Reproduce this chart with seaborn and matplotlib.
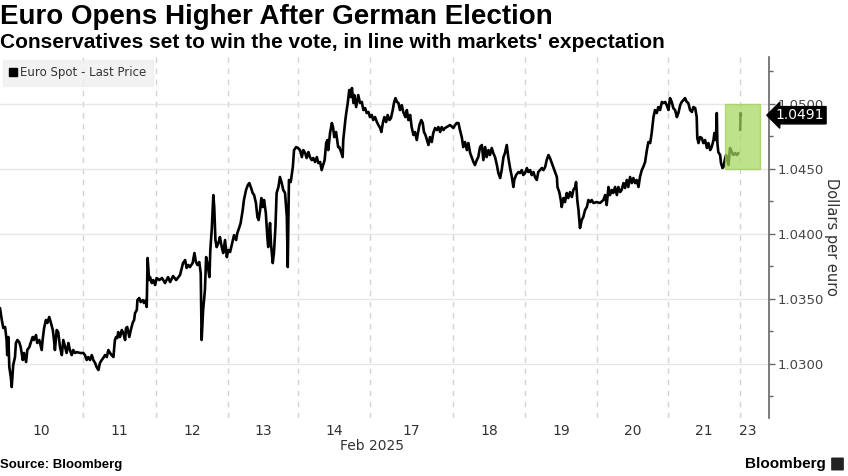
import matplotlib
matplotlib.use("Agg")
import numpy as np
import pandas as pd
import matplotlib.pyplot as plt
import seaborn as sns
from matplotlib.lines import Line2D
from matplotlib.patches import Rectangle, FancyBboxPatch
import matplotlib.ticker as mticker

# ---------------- data ----------------
day_labels = ["10", "11", "12", "13", "14", "17", "18", "19", "20", "21", "23"]
day_start_hours = [0, 27.7, 52, 76, 99.3, 123.3, 151, 175, 199, 222.7, 246.7]
axis_end_hour = 256.3

feb10_h = [0.0, 0.6, 1.1, 1.7, 2.2, 2.4, 2.8, 3.1, 3.6, 3.9, 4.4, 5.0, 5.3, 5.8, 6.4, 6.9, 7.6, 8.0, 8.7, 9.1,
           9.8, 10.2, 10.9, 11.3, 12.0, 12.4, 13.1, 13.9, 14.2, 14.7, 15.3, 15.8, 16.4, 16.9, 17.6, 18.0, 18.3,
           18.9, 19.4, 20.0, 20.6, 21.1, 21.7, 22.2, 22.8, 23.3, 23.9, 24.4, 25.0, 25.6, 26.7, 27.8]
feb10_p = [1.03427, 1.03335, 1.03273, 1.03281, 1.03181, 1.03065, 1.03204, 1.02973, 1.02896, 1.02819, 1.02988,
           1.03050, 1.03158, 1.03181, 1.03165, 1.03127, 1.03027, 1.03081, 1.03012, 1.03104, 1.03127, 1.03158,
           1.03204, 1.03181, 1.03219, 1.03158, 1.03181, 1.03104, 1.03181, 1.03273, 1.03335, 1.03312, 1.03358,
           1.03319, 1.03258, 1.03181, 1.03104, 1.03258, 1.03242, 1.03127, 1.03065, 1.03181, 1.03127, 1.03081,
           1.03158, 1.03104, 1.03065, 1.03104, 1.03081, 1.03088, 1.03081, 1.03081]

feb11_h = [28.3, 28.9, 29.4, 30.0, 30.6, 31.1, 31.7, 32.2, 32.8, 33.3, 33.9, 34.4, 35.0, 35.6, 36.1, 36.7, 37.2,
           37.8, 38.3, 38.7, 39.1, 39.4, 40.0, 40.6, 41.1, 41.7, 42.0, 42.4, 43.1, 43.6, 44.2, 44.7, 45.0, 45.6,
           45.8, 46.4, 46.9, 47.6, 48.0, 48.6, 48.9, 49.2, 49.7, 50.0, 50.6, 51.1, 51.7, 52.2]
feb11_p = [1.03065, 1.03027, 1.03050, 1.03027, 1.03065, 1.03027, 1.03004, 1.02973, 1.02950, 1.03004, 1.03027,
           1.03042, 1.03065, 1.03050, 1.03104, 1.03081, 1.03065, 1.03050, 1.03181, 1.03204, 1.03196, 1.03242,
           1.03204, 1.03258, 1.03235, 1.03181, 1.03273, 1.03281, 1.03204, 1.03258, 1.03312, 1.03335, 1.03388,
           1.03412, 1.03488, 1.03504, 1.03473, 1.03488, 1.03465, 1.03488, 1.03435, 1.03812, 1.03642, 1.03665,
           1.03619, 1.03642, 1.03604, 1.03658]

feb12_h = [53.1, 54.0, 55.0, 56.0, 56.7, 57.7, 58.7, 60.0, 61.0, 61.7, 62.2, 62.8, 63.3, 64.2, 64.8, 65.3, 65.8,
           66.4, 66.9, 67.2, 67.7, 68.3, 68.7, 69.1, 69.8, 70.1, 70.6, 71.1, 71.4, 71.8, 72.2, 72.8, 73.3, 73.9,
           74.4, 75.0, 75.6, 76.1]
feb12_p = [1.03642, 1.03658, 1.03619, 1.03665, 1.03627, 1.03673, 1.03642, 1.03681, 1.03773, 1.03796, 1.03735,
           1.03758, 1.03742, 1.03773, 1.03850, 1.03781, 1.03758, 1.03781, 1.03696, 1.03181, 1.03412, 1.03565,
           1.03819, 1.03773, 1.03665, 1.03873, 1.04042, 1.04296, 1.04204, 1.03950, 1.03896, 1.03927, 1.03973,
           1.03896, 1.03850, 1.03950, 1.03819, 1.03873]

feb13_h = [76.7, 77.6, 78.0, 78.7, 79.1, 79.8, 80.2, 80.9, 81.3, 82.0, 82.6, 83.1, 83.7, 84.2, 84.7, 85.3, 85.8,
           86.2, 86.7, 87.1, 87.6, 88.0, 88.6, 89.1, 89.4, 90.0, 90.3, 90.9, 91.3, 91.8, 92.2, 92.8, 93.3, 93.9,
           94.4, 95.0, 95.6, 95.9, 96.3, 96.9, 97.6, 98.0, 98.7, 99.3]
feb13_p = [1.03858, 1.03950, 1.03988, 1.03950, 1.04004, 1.04050, 1.04081, 1.04181, 1.04258, 1.04335, 1.04373,
           1.04388, 1.04350, 1.04312, 1.04296, 1.04235, 1.04127, 1.04104, 1.04181, 1.04273, 1.04204, 1.04258,
           1.04158, 1.03973, 1.03896, 1.04081, 1.03927, 1.03773, 1.03850, 1.04050, 1.04312, 1.04358, 1.04435,
           1.04388, 1.04335, 1.04312, 1.04127, 1.03742, 1.04412, 1.04396, 1.04512, 1.04642, 1.04665, 1.04658]

feb14_h = [100.0, 100.6, 101.1, 101.7, 102.2, 102.8, 103.3, 103.9, 104.4, 105.0, 105.6, 106.1, 106.7, 107.2,
           107.7, 108.2, 108.7, 109.1, 109.4, 110.0, 110.6, 111.0, 111.4, 112.0, 112.7, 113.1, 113.8, 114.2,
           114.4, 115.1, 115.4, 115.9, 116.4, 116.9, 117.3, 117.8, 118.1, 118.7, 119.1, 119.4, 120.0, 120.6,
           121.1, 121.7, 122.2, 122.8, 123.3]
feb14_p = [1.04642, 1.04588, 1.04642, 1.04619, 1.04581, 1.04627, 1.04588, 1.04565, 1.04581, 1.04550, 1.04588,
           1.04542, 1.04550, 1.04488, 1.04527, 1.04565, 1.04696, 1.04719, 1.04642, 1.04773, 1.04850, 1.04819,
           1.04742, 1.04781, 1.04665, 1.04665, 1.04619, 1.04588, 1.04719, 1.04873, 1.04927, 1.05004, 1.05104,
           1.05050, 1.05119, 1.05004, 1.05065, 1.04973, 1.05027, 1.05065, 1.05004, 1.05012, 1.04950, 1.04965,
           1.04927, 1.04935, 1.04896]

feb17_h = [123.9, 124.4, 125.0, 125.6, 126.1, 126.7, 127.1, 127.6, 128.1, 128.7, 129.2, 129.8, 130.3, 130.9,
           131.3, 131.8, 132.3, 132.8, 133.3, 133.9, 134.4, 135.1, 135.6, 136.1, 136.7, 137.2, 137.8, 138.3,
           138.9, 139.3, 139.8, 140.4, 140.9, 141.3, 141.8, 142.3, 142.8, 143.3, 143.9, 144.4, 145.0, 145.6,
           146.1, 146.7, 147.2, 147.8, 148.3, 148.9, 150.0, 151.1]
feb17_p = [1.04912, 1.04873, 1.04896, 1.04858, 1.04835, 1.04812, 1.04781, 1.04850, 1.04896, 1.04858, 1.04912,
           1.04873, 1.04888, 1.04950, 1.05004, 1.05042, 1.05012, 1.05004, 1.04950, 1.04988, 1.04935, 1.04896,
           1.04950, 1.04873, 1.04912, 1.04819, 1.04758, 1.04781, 1.04719, 1.04773, 1.04835, 1.04873, 1.04850,
           1.04781, 1.04758, 1.04719, 1.04681, 1.04742, 1.04704, 1.04773, 1.04812, 1.04796, 1.04819, 1.04781,
           1.04819, 1.04796, 1.04812, 1.04819, 1.04835, 1.04812]

feb18_h = [151.7, 152.2, 152.8, 153.3, 153.9, 154.4, 155.0, 155.6, 156.1, 156.7, 157.2, 157.8, 158.3, 158.9,
           159.4, 160.0, 160.6, 161.1, 161.7, 162.2, 162.8, 163.3, 163.9, 164.4, 165.0, 165.6, 166.1, 166.7,
           167.2, 167.8, 168.3, 168.9, 169.4, 170.0, 170.6, 171.1, 171.4, 172.0, 172.8, 173.3, 173.9, 174.4,
           175.0]
feb18_p = [1.04835, 1.04850, 1.04850, 1.04796, 1.04742, 1.04665, 1.04704, 1.04642, 1.04696, 1.04619, 1.04588,
           1.04550, 1.04527, 1.04565, 1.04588, 1.04665, 1.04681, 1.04565, 1.04665, 1.04588, 1.04642, 1.04604,
           1.04658, 1.04619, 1.04588, 1.04527, 1.04465, 1.04427, 1.04488, 1.04588, 1.04619, 1.04681, 1.04588,
           1.04504, 1.04435, 1.04358, 1.04412, 1.04450, 1.04473, 1.04465, 1.04488, 1.04450, 1.04465]

feb19_h = [175.6, 176.1, 176.7, 177.2, 177.8, 178.3, 178.9, 179.4, 180.0, 180.6, 181.1, 181.7, 182.2, 182.8,
           183.3, 183.9, 184.4, 185.0, 185.6, 185.8, 186.4, 186.9, 187.2, 187.8, 188.3, 188.9, 189.4, 190.0,
           190.6, 191.1, 191.7, 192.0, 192.4, 192.8, 193.3, 193.9, 194.4, 195.0, 195.6, 196.1, 196.7, 197.2,
           197.8, 198.9]
feb19_p = [1.04504, 1.04473, 1.04488, 1.04450, 1.04473, 1.04435, 1.04412, 1.04473, 1.04488, 1.04504, 1.04488,
           1.04512, 1.04565, 1.04604, 1.04581, 1.04542, 1.04512, 1.04473, 1.04435, 1.04358, 1.04319, 1.04258,
           1.04204, 1.04273, 1.04242, 1.04312, 1.04273, 1.04319, 1.04281, 1.04335, 1.04358, 1.04396, 1.04258,
           1.04181, 1.04042, 1.04104, 1.04127, 1.04181, 1.04204, 1.04258, 1.04242, 1.04258, 1.04235, 1.04242]

feb20_h = [200.0, 201.1, 201.7, 202.2, 202.8, 203.3, 203.9, 204.4, 205.0, 205.6, 206.1, 206.7, 207.2, 207.8,
           208.3, 208.9, 209.4, 210.0, 210.6, 211.1, 211.7, 212.2, 212.8, 213.3, 213.9, 214.4, 215.0, 215.6,
           216.1, 216.7, 217.2, 217.8, 218.3, 218.9, 219.4, 220.0, 220.6, 221.1, 221.7, 222.2, 222.8]
feb20_p = [1.04235, 1.04258, 1.04296, 1.04219, 1.04358, 1.04296, 1.04335, 1.04312, 1.04358, 1.04296, 1.04358,
           1.04319, 1.04335, 1.04388, 1.04350, 1.04412, 1.04358, 1.04435, 1.04388, 1.04427, 1.04388, 1.04412,
           1.04358, 1.04435, 1.04488, 1.04512, 1.04550, 1.04642, 1.04704, 1.04696, 1.04773, 1.04896, 1.04950,
           1.04927, 1.04973, 1.04950, 1.05012, 1.05004, 1.05012, 1.04988, 1.04950]

feb21_h = [223.3, 223.9, 224.4, 225.0, 225.6, 226.1, 226.7, 227.2, 227.8, 228.3, 228.9, 229.4, 230.0, 230.6,
           231.1, 231.7, 232.2, 232.4, 232.8, 233.3, 233.9, 234.4, 235.0, 235.6, 236.1, 236.7, 237.2, 237.8,
           238.1, 238.6, 238.9, 239.1, 239.4, 240.0, 240.3, 240.8, 241.1, 241.7, 242.0, 242.4, 242.8, 243.3,
           243.9, 244.4, 245.0, 245.6, 246.1]
feb21_p = [1.05042, 1.05012, 1.04965, 1.04950, 1.04896, 1.04927, 1.04988, 1.05012, 1.05027, 1.05042, 1.05012,
           1.05004, 1.04950, 1.04935, 1.04973, 1.04965, 1.04896, 1.04735, 1.04696, 1.04742, 1.04735, 1.04696,
           1.04719, 1.04658, 1.04696, 1.04642, 1.04665, 1.04719, 1.04773, 1.04719, 1.04927, 1.04696, 1.04627,
           1.04604, 1.04542, 1.04504, 1.04512, 1.04581, 1.04604, 1.04565, 1.04527, 1.04658, 1.04627, 1.04604,
           1.04619, 1.04604, 1.04619]

feb23_h = [246.7, 246.8, 247.0]
feb23_p = [1.04796, 1.04927, 1.0491]

last_price = 1.0491
highlight_hours = (241.7, 253.3)
highlight_prices = (1.0450, 1.0500)

# ---------------- assemble ----------------
week_h = feb10_h + feb11_h + feb12_h + feb13_h + feb14_h + feb17_h + feb18_h + feb19_h + feb20_h + feb21_h
week_p = feb10_p + feb11_p + feb12_p + feb13_p + feb14_p + feb17_p + feb18_p + feb19_p + feb20_p + feb21_p
for a, b in [(feb10_h, feb10_p), (feb11_h, feb11_p), (feb12_h, feb12_p), (feb13_h, feb13_p),
             (feb14_h, feb14_p), (feb17_h, feb17_p), (feb18_h, feb18_p), (feb19_h, feb19_p),
             (feb20_h, feb20_p), (feb21_h, feb21_p), (feb23_h, feb23_p)]:
    assert len(a) == len(b), (a[0], len(a), len(b))

df = pd.DataFrame({
    "hour": week_h + feb23_h,
    "price": week_p + feb23_p,
    "session": ["week"] * len(week_h) + ["sunday"] * len(feb23_h),
})

# ---------------- figure ----------------
sns.set_theme(style="white")
plt.rcParams["font.family"] = ["DejaVu Sans"]

W, H = 848, 476
fig = plt.figure(figsize=(W / 100, H / 100), dpi=100)
ax = fig.add_axes([0.0, 1 - 418 / H, 769 / W, (418 - 57) / H])

sns.lineplot(data=df, x="hour", y="price", units="session", estimator=None,
             color="black", linewidth=1.9, ax=ax, legend=False, sort=False)

ax.set_xlim(0, axis_end_hour)
ax.set_ylim(1.02581, 1.05358)

# day separators
for s in day_start_hours[1:]:
    ax.axvline(s, color="#d4d4d4", lw=1.0, ls=(0, (4, 4)), zorder=0)

# day labels at centers
bounds = day_start_hours + [axis_end_hour]
centers = [(bounds[i] + bounds[i + 1]) / 2 for i in range(len(day_labels))]
centers[-1] = bounds[-2] + 2.6
ax.set_xticks(centers)
ax.set_xticklabels(day_labels)
ax.tick_params(axis="x", length=0, pad=4, labelsize=10, labelcolor="#333333")
ax.set_xlabel("")
ax.set_ylabel("")

# y axis on right
ax.yaxis.tick_right()
ax.yaxis.set_major_locator(mticker.MultipleLocator(0.005))
ax.yaxis.set_minor_locator(mticker.MultipleLocator(0.0025))
ax.yaxis.set_major_formatter(mticker.FormatStrFormatter("%.4f"))
ax.tick_params(axis="y", which="major", length=4, width=1, color="#666666", pad=2,
               labelsize=9.5, labelcolor="#444444", right=True, left=False)
ax.tick_params(axis="y", which="minor", length=3, width=1, color="#666666", right=True, left=False)
ax.grid(axis="y", which="major", color="#e6e6e6", lw=1)
ax.grid(axis="x", visible=False)
for side in ["top", "left", "bottom"]:
    ax.spines[side].set_visible(False)
ax.spines["right"].set_color("#666666")
ax.spines["right"].set_linewidth(1.2)

# highlight box
ax.add_patch(Rectangle((highlight_hours[0], highlight_prices[0]),
                       highlight_hours[1] - highlight_hours[0],
                       highlight_prices[1] - highlight_prices[0],
                       facecolor="#a6d85e", edgecolor="#9ccf52", alpha=0.72, lw=1, zorder=5))

# last price tag (covers the 1.0500 label, as in the original)
ax.annotate(f"{last_price:.4f}", xy=(1.0, last_price), xycoords=ax.get_yaxis_transform(),
            xytext=(1.009, last_price), textcoords=ax.get_yaxis_transform(),
            ha="left", va="center", fontsize=10, color="white", zorder=10, annotation_clip=False,
            bbox=dict(boxstyle="larrow,pad=0.12", facecolor="black", edgecolor="black"))

# legend
handle = Line2D([], [], marker="s", color="black", linestyle="None", markersize=6)
leg = ax.legend([handle], ["Euro Spot - Last Price"], loc="upper left", bbox_to_anchor=(0.004, 0.992),
                frameon=True, fontsize=8.5, handlelength=0.6, handletextpad=0.3, borderpad=0.55,
                borderaxespad=0.0, fancybox=False)
leg.get_frame().set_facecolor("#efefef")
leg.get_frame().set_edgecolor("#efefef")
for t in leg.get_texts():
    t.set_color("#333333")

# texts
fig.text(0.0, 1 - 17 / H, "Euro Opens Higher After German Election", ha="left", va="center",
         fontsize=20, fontweight="bold", family=["Liberation Sans", "DejaVu Sans"], color="black")
fig.text(0.0, 1 - 42 / H, "Conservatives set to win the vote, in line with markets' expectation",
         ha="left", va="center", fontsize=15, fontweight="bold", family=["Liberation Sans", "DejaVu Sans"],
         color="black")
fig.text(372 / W, 1 - 446 / H, "Feb 2025", ha="center", va="center", fontsize=10, color="#333333")
fig.text(831 / W, 1 - 237 / H, "Dollars per euro", ha="center", va="center", rotation=270,
         fontsize=10.5, color="#333333")
fig.text(0.0, 1 - 465 / H, "Source: Bloomberg", ha="left", va="center", fontsize=9.5,
         fontweight="bold", family=["Liberation Sans", "DejaVu Sans"], color="black")
fig.text(826 / W, 1 - 464 / H, "Bloomberg", ha="right", va="center", fontsize=11,
         fontweight="bold", family=["Liberation Sans", "DejaVu Sans"], color="black")
fig.patches.append(FancyBboxPatch((832 / W, 1 - 470 / H), 11 / W, 12 / H, boxstyle="round,pad=0.001",
                                  transform=fig.transFigure, facecolor="#222222", edgecolor="none"))

fig.savefig("out.png", dpi=100)
